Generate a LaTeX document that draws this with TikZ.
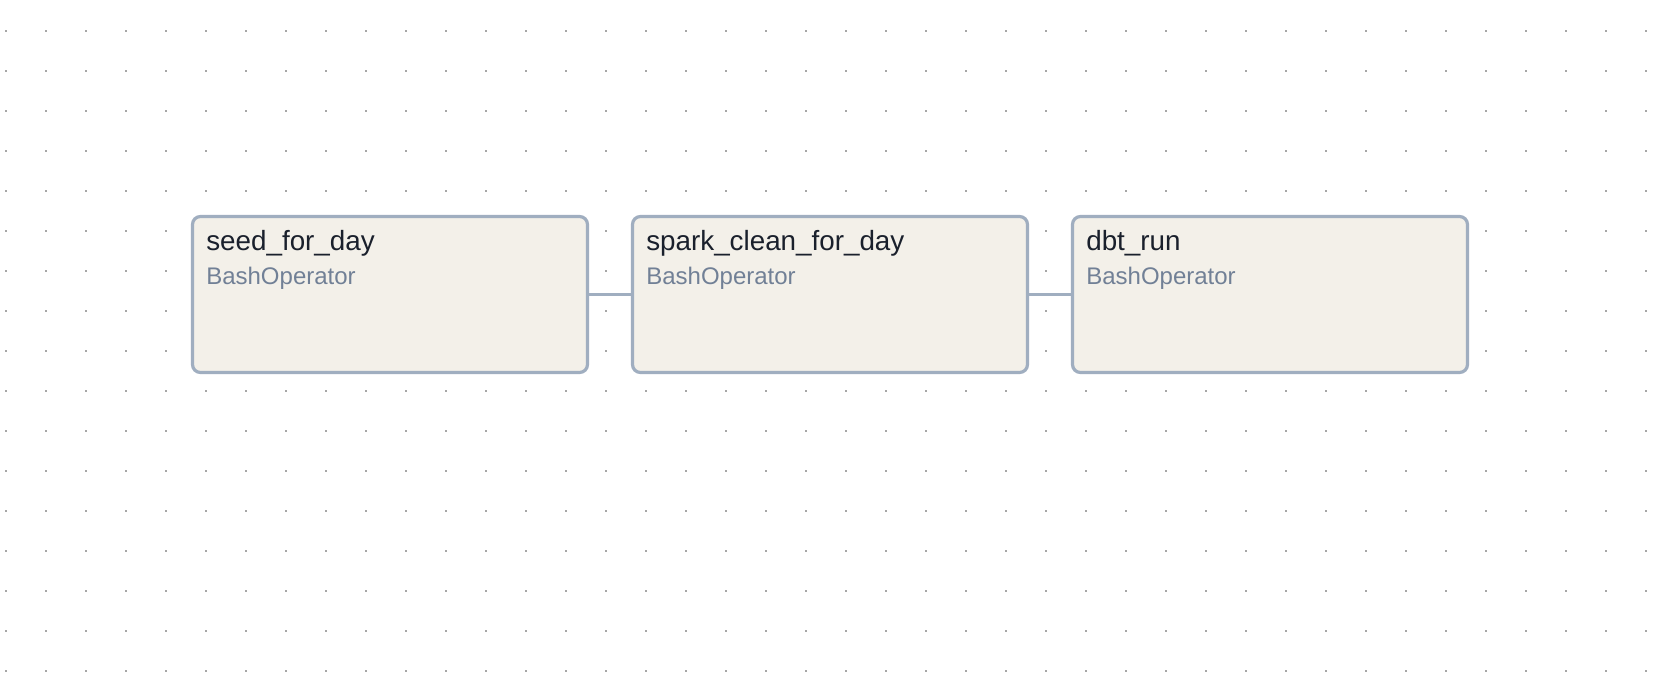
\documentclass[tikz,border=0pt]{standalone}
\usepackage{fontspec}
\setmainfont{Liberation Sans}
\usetikzlibrary{positioning}

\definecolor{taskborder}{HTML}{A0AEC0}
\definecolor{taskfill}{HTML}{F3F0E9}
\definecolor{taskname}{HTML}{1A202C}
\definecolor{tasktype}{HTML}{718096}
\definecolor{griddot}{HTML}{A6A6A6}

\begin{document}
\begin{tikzpicture}[x=0.5pt,y=-0.5pt]

\fill[white] (0,0) rectangle (1670,678);
\useasboundingbox (0,0) rectangle (1670,678);

% background dots
\foreach \gx in {6,46,...,1646} {
    \foreach \gy in {31,71,...,671} {
        \fill[griddot] (\gx-1,\gy-1) rectangle (\gx+1,\gy+1);
    }
}

\begin{scope}[every node/.style={rectangle, draw=taskborder, fill=taskfill,
                                 line width=1.6pt, rounded corners=4pt,
                                 minimum width=197.5pt, minimum height=78pt}]
    \node (seed)  at (390, 294.5)  {};
    \node (spark) at (830, 294.5)  {};
    \node (dbt)   at (1270, 294.5) {};
\end{scope}

\begin{scope}[every edge/.style={draw=taskborder, line width=1.6pt}]
    \path [-] (seed) edge (spark);
    \path [-] (spark) edge (dbt);
\end{scope}

\begin{scope}[every node/.style={anchor=base west, inner sep=0pt}]
    \node (seedname)  [text=taskname, font=\fontsize{13.9}{16}\selectfont]
        at ([shift={(15,36)}]seed.north west) {seed\_for\_day};
    \node (sparkname) [text=taskname, font=\fontsize{13.9}{16}\selectfont]
        at ([shift={(15,36)}]spark.north west) {spark\_clean\_for\_day};
    \node (dbtname)   [text=taskname, font=\fontsize{13.9}{16}\selectfont]
        at ([shift={(15,36)}]dbt.north west) {dbt\_run};

    \node (seedtype)  [text=tasktype, font=\fontsize{12}{14}\selectfont]
        at ([shift={(15,70)}]seed.north west) {BashOperator};
    \node (sparktype) [text=tasktype, font=\fontsize{12}{14}\selectfont]
        at ([shift={(15,70)}]spark.north west) {BashOperator};
    \node (dbttype)   [text=tasktype, font=\fontsize{12}{14}\selectfont]
        at ([shift={(15,70)}]dbt.north west) {BashOperator};
\end{scope}

\end{tikzpicture}
\end{document}
